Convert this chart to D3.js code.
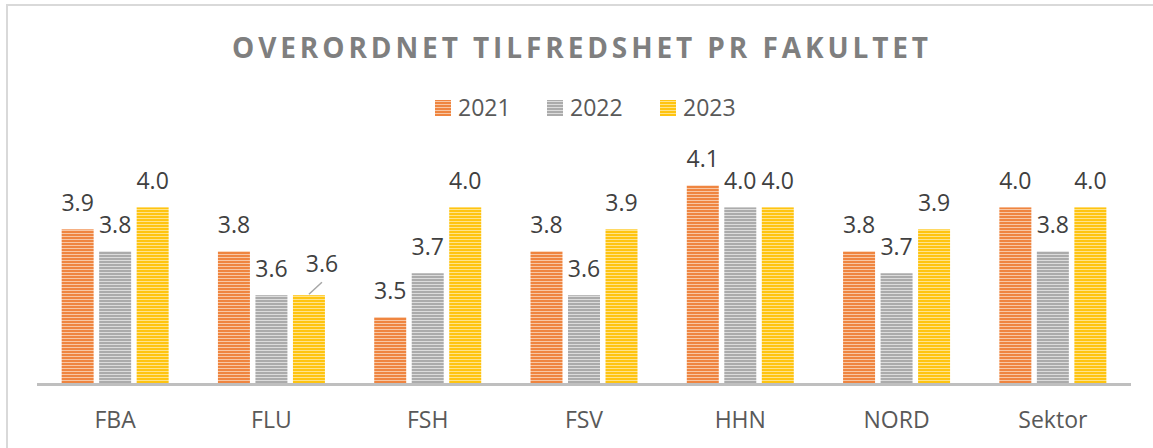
<!DOCTYPE html>
<html>
<head>
<meta charset="utf-8">
<script src="https://cdn.jsdelivr.net/npm/d3@7"></script>
<style>
  body { margin: 0; background: #fff; }
  svg { display: block; font-family: "Open Sans", sans-serif; }
</style>
</head>
<body>
<svg id="chart" width="1153" height="448"></svg>
<script>
const categories = ["FBA", "FLU", "FSH", "FSV", "HHN", "NORD", "Sektor"];
const years = ["2021", "2022", "2023"];
const values2021 = [3.9, 3.8, 3.5, 3.8, 4.1, 3.8, 4.0];
const values2022 = [3.8, 3.6, 3.7, 3.6, 4.0, 3.7, 3.8];
const values2023 = [4.0, 3.6, 4.0, 3.9, 4.0, 3.9, 4.0];
const seriesValues = [values2021, values2022, values2023];

const colors = {
  "2021": { dark: "#EF8540", light: "#F8C7A4" },
  "2022": { dark: "#ABABAB", light: "#DCDCDC" },
  "2023": { dark: "#FFC410", light: "#FFE38A" }
};

const svg = d3.select("svg#chart");
const defs = svg.append("defs");

// horizontal stripe fills
years.forEach((yr) => {
  const p = defs.append("pattern")
    .attr("id", "stripe" + yr)
    .attr("patternUnits", "userSpaceOnUse")
    .attr("width", 8)
    .attr("height", 3);
  p.append("rect").attr("width", 8).attr("height", 3).attr("fill", colors[yr].dark);
  p.append("rect").attr("y", 2).attr("width", 8).attr("height", 1).attr("fill", colors[yr].light);
});

// outer chart border
svg.append("rect")
  .attr("x", 7).attr("y", 5)
  .attr("width", 1160).attr("height", 460)
  .attr("fill", "none")
  .attr("stroke", "#D9D9D9")
  .attr("stroke-width", 2);

svg.append("text")
  .attr("x", 582)
  .attr("y", 58)
  .attr("text-anchor", "middle")
  .style("font-size", "28px")
  .style("font-weight", "bold")
  .style("letter-spacing", "3.9px")
  .attr("fill", "#7F7F7F")
  .text("OVERORDNET TILFREDSHET PR FAKULTET");

// legend
const legendX = [435, 547, 660];
const legend = svg.append("g");
years.forEach((yr, i) => {
  legend.append("rect")
    .attr("x", legendX[i]).attr("y", 100)
    .attr("width", 16).attr("height", 16)
    .attr("fill", "url(#stripe" + yr + ")");
  legend.append("text")
    .attr("x", legendX[i] + 23).attr("y", 116)
    .style("font-size", "23px")
    .attr("fill", "#595959")
    .text(yr);
});

const x0 = d3.scaleBand().domain(categories).range([37, 1131]).padding(0);
const x1 = d3.scaleBand().domain(years)
  .range([(x0.bandwidth() - 107) / 2, (x0.bandwidth() + 107) / 2])
  .paddingInner(0.147);
const y = d3.scaleLinear().domain([3.2, 4.2]).range([383, 163.5]);

const rows = [];
categories.forEach((c, ci) => {
  years.forEach((yr, si) => rows.push({ cat: c, year: yr, value: seriesValues[si][ci] }));
});

const g = svg.append("g");
g.selectAll("rect.bar")
  .data(rows)
  .enter()
  .append("rect")
  .attr("class", "bar")
  .attr("x", (d) => x0(d.cat) + x1(d.year))
  .attr("y", (d) => y(d.value))
  .attr("width", x1.bandwidth())
  .attr("height", (d) => y(3.2) - y(d.value))
  .attr("fill", (d) => "url(#stripe" + d.year + ")");

// baseline
svg.append("line")
  .attr("x1", 37).attr("x2", 1131)
  .attr("y1", 384.5).attr("y2", 384.5)
  .attr("stroke", "#BFBFBF")
  .attr("stroke-width", 3);

// data labels (FLU 2023 label is pushed aside with a leader line)
const moved = (d) => d.cat === "FLU" && d.year === "2023";
g.selectAll("text.value")
  .data(rows)
  .enter()
  .append("text")
  .attr("class", "value")
  .attr("x", (d) => x0(d.cat) + x1(d.year) + x1.bandwidth() / 2 + (moved(d) ? 13 : 0))
  .attr("y", (d) => y(d.value) - 18 - (moved(d) ? 5 : 0))
  .attr("text-anchor", "middle")
  .style("font-size", "23px")
  .attr("fill", "#404040")
  .text((d) => d3.format(".1f")(d.value));

rows.filter(moved).forEach((d) => {
  const cx = x0(d.cat) + x1(d.year) + x1.bandwidth() / 2;
  g.append("line")
    .attr("x1", cx).attr("y1", y(d.value) - 1)
    .attr("x2", cx + 13).attr("y2", y(d.value) - 13)
    .attr("stroke", "#A6A6A6")
    .attr("stroke-width", 1.5);
});

// category labels
svg.append("g")
  .selectAll("text")
  .data(categories)
  .enter()
  .append("text")
  .attr("x", (c) => x0(c) + x0.bandwidth() / 2)
  .attr("y", 428)
  .attr("text-anchor", "middle")
  .style("font-size", "23px")
  .attr("fill", "#595959")
  .text((c) => c);
</script>
</body>
</html>
